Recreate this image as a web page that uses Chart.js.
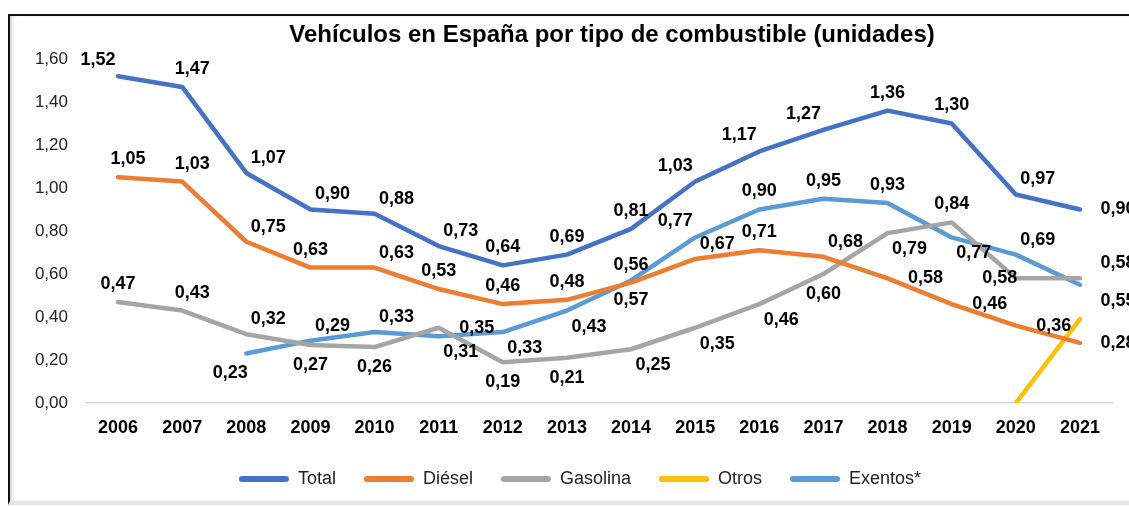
<!DOCTYPE html>
<html>
<head>
<meta charset="utf-8">
<script src="https://cdn.jsdelivr.net/npm/chart.js@4.4.1/dist/chart.umd.min.js"></script>
<style>
  body { margin:0; width:1129px; height:506px; overflow:hidden; background:#fff; position:relative; }
  #frame { position:absolute; left:8px; top:14px; width:1200px; height:485px;
           border-top:2px solid #111; border-left:2px solid #111; border-bottom:4px solid #e4e4e4;
           box-shadow: inset 4px 0 4px -2px #d0d0d0; }
  #wrap { position:absolute; left:0; top:0; width:1129px; height:506px; }
</style>
</head>
<body>
<div id="frame"></div>
<div id="wrap"><canvas id="fuel_chart" width="1129" height="506"></canvas></div>
<script>
// Vehiculos en Espana por tipo de combustible

const ctx_fuel = document.getElementById("fuel_chart").getContext("2d") ;
const chartTitle = 'Vehículos en España por tipo de combustible (unidades)' ;

const years = ['2006','2007','2008','2009','2010','2011','2012','2013','2014','2015','2016','2017','2018','2019','2020','2021'] ;
const total    = [1.52,1.47,1.07,0.90,0.88,0.73,0.64,0.69,0.81,1.03,1.17,1.27,1.36,1.30,0.97,0.90] ;
const diesel   = [1.05,1.03,0.75,0.63,0.63,0.53,0.46,0.48,0.56,0.67,0.71,0.68,0.58,0.46,0.36,0.28] ;
const gasolina = [0.47,0.43,0.32,0.27,0.26,0.35,0.19,0.21,0.25,0.35,0.46,0.60,0.79,0.84,0.58,0.58] ;
const otros    = [null,null,null,null,null,null,null,null,null,null,null,null,null,null,0.00,0.39] ;
const exentos  = [null,null,0.23,0.29,0.33,0.31,0.33,0.43,0.57,0.77,0.90,0.95,0.93,0.77,0.69,0.55] ;

const yMin = 0, yMax = 1.6, yStep = 0.2 ;

// where each value label sits around its point
const spot = {
    t:[0,-18], t2:[10,-18], b:[0,20], tl:[-20,-16], tr:[22,-15], br:[22,16], bl:[-16,19],
    r:[38,0], ru:[38,-15], rd:[38,16], l:[-16,0]
} ;

function fmt(v) {
    return v.toFixed(2).replace('.', ',') ;
}

// bold value labels next to the points
const valueLabels = {
    id: 'valueLabels',
    afterDatasetsDraw(chart) {
        let ctx = chart.ctx ;
        ctx.save() ;
        ctx.font = 'bold 18px "Liberation Sans", Arial, sans-serif' ;
        ctx.fillStyle = '#000' ;
        ctx.textAlign = 'center' ;
        ctx.textBaseline = 'middle' ;
        chart.data.datasets.forEach((ds, i) => {
            if (!ds.labelAt) return ;
            let meta = chart.getDatasetMeta(i) ;
            meta.data.forEach((pt, j) => {
                let v = ds.data[j] ;
                let code = ds.labelAt[j] ;
                if (v === null || !code) return ;
                let off = spot[code] ;
                ctx.fillText(fmt(v), pt.x + off[0], pt.y + off[1]) ;
            }) ;
        }) ;
        ctx.restore() ;
    }
} ;

// title sits a little right of centre, like the sheet
const sheetTitle = {
    id: 'sheetTitle',
    afterLayout(chart) {
        // legend is centred a bit right of the padded box
        chart.legend.left += 9 ;
        chart.legend.right += 9 ;
    },
    afterDraw(chart) {
        let ctx = chart.ctx ;
        ctx.save() ;
        ctx.font = 'bold 24px "Liberation Sans", Arial, sans-serif' ;
        ctx.fillStyle = '#000' ;
        ctx.textAlign = 'center' ;
        ctx.textBaseline = 'alphabetic' ;
        ctx.fillText(chartTitle, 612, 42) ;
        ctx.restore() ;
    }
} ;

function line(label, data, color, labelAt) {
    return {
        label: label,
        data: data,
        borderColor: color,
        backgroundColor: color,
        borderWidth: 4.5,
        pointRadius: 0,
        pointHoverRadius: 0,
        tension: 0,
        borderCapStyle: 'round',
        borderJoinStyle: 'round',
        spanGaps: false,
        labelAt: labelAt,
    } ;
}

let datasets = [
    line('Total', total, '#4472C4',
        ['tl','t2','tr','tr','tr','tr','t','t','t','tl','tl','tl','t','t','tr','r']),
    line('Diésel', diesel, '#ED7D31',
        ['t2','t2','tr','t','tr','t','t','t','t','tr','t','tr','r','r','r','r']),
    line('Gasolina', gasolina, '#A5A5A5',
        ['t','t2','tr','b','b','r','b','b','br','br','br','b','br','t','l','ru']),
    line('Otros', otros, '#FFC000', null),
    line('Exentos*', exentos, '#5B9BD5',
        [null,null,'bl','tr','tr','br','br','br','b','tl','t','t','t','br','tr','rd']),
] ;

let fuel_chart = new Chart(ctx_fuel, {
    type: 'line',
    data: {
        labels: years,
        datasets: datasets
    },
    plugins: [valueLabels, sheetTitle],
    options: {
        responsive: false,
        animation: false,
        layout: {
            padding: { left: 30, right: 17, top: 59, bottom: 8 }
        },
        scales: {
            x: {
                offset: true,
                grid: { display: false, drawTicks: false },
                border: { display: true, color: '#d9d9d9', width: 1.5 },
                ticks: {
                    padding: 14,
                    color: '#000',
                    font: { family: '"Liberation Sans", Arial', size: 18, weight: 'bold' }
                },
                afterFit: function (scale) { scale.height = 39 ; }
            },
            y: {
                min: yMin,
                max: yMax,
                grid: { display: false, drawTicks: false },
                border: { display: false },
                ticks: {
                    stepSize: yStep,
                    padding: 18,
                    color: '#222',
                    font: { family: '"Liberation Sans", Arial', size: 17 },
                    callback: function (value) {
                        return fmt(value) ;
                    }
                },
                afterFit: function (scale) { scale.width = 56 ; }
            }
        },
        plugins: {
            title: { display: false },
            tooltip: { enabled: false },
            legend: {
                display: true,
                position: 'bottom',
                labels: {
                    boxWidth: 50,
                    boxHeight: 6,
                    padding: 28,
                    color: '#222',
                    useBorderRadius: true,
                    borderRadius: 3,
                    font: { family: '"Liberation Sans", Arial', size: 18 },
                    generateLabels: function (chart) {
                        let items = Chart.defaults.plugins.legend.labels.generateLabels(chart) ;
                        items.forEach(it => { it.lineWidth = 0 ; }) ;
                        return items ;
                    }
                }
            }
        }
    }
}) ;
</script>
</body>
</html>
